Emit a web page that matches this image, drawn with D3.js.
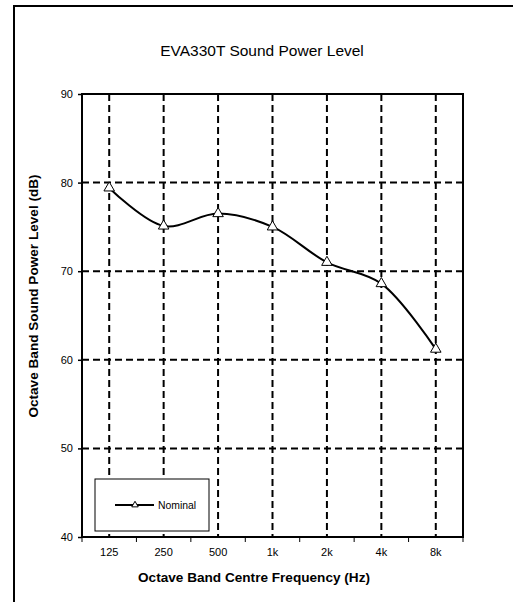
<!DOCTYPE html>
<html>
<head>
<meta charset="utf-8">
<script src="https://cdn.jsdelivr.net/npm/d3@7"></script>
<style>
  body { margin: 0; background: #fff; }
  text { font-family: "Liberation Sans", Arial, sans-serif; fill: #000; }
</style>
</head>
<body>
<div id="chart"></div>
<script>
// octave band data
const bands = ["125", "250", "500", "1k", "2k", "4k", "8k"];
const nominal = [79.4, 75.1, 76.5, 75.0, 71.0, 68.6, 61.2];
const yTicks = [40, 50, 60, 70, 80, 90];

const width = 513, height = 602;
const margin = { left: 82, right: 50, top: 94, bottom: 65 };

const svg = d3.select("#chart")
  .append("svg")
  .attr("width", width)
  .attr("height", height);

// outer chart frame (only top/left show in the crop)
svg.append("path")
  .attr("d", `M14,${height} L14,6 L${width},6`)
  .attr("fill", "none")
  .attr("stroke", "#000")
  .attr("stroke-width", 2);

const x = d3.scaleBand()
  .domain(bands)
  .range([margin.left, width - margin.right]);

const y = d3.scaleLinear()
  .domain([40, 90])
  .range([height - margin.bottom, margin.top]);

// gridlines
svg.append("g")
  .selectAll("line")
  .data(yTicks.slice(1, -1))
  .enter()
  .append("line")
  .attr("x1", margin.left)
  .attr("x2", width - margin.right)
  .attr("y1", d => y(d))
  .attr("y2", d => y(d))
  .attr("stroke", "#000")
  .attr("stroke-width", 2)
  .attr("stroke-dasharray", "7,4");

svg.append("g")
  .selectAll("line")
  .data(bands)
  .enter()
  .append("line")
  .attr("x1", d => x(d) + x.bandwidth() / 2)
  .attr("x2", d => x(d) + x.bandwidth() / 2)
  .attr("y1", y(90))
  .attr("y2", y(40))
  .attr("stroke", "#000")
  .attr("stroke-width", 2)
  .attr("stroke-dasharray", "7,4");

// plot frame
svg.append("rect")
  .attr("x", margin.left)
  .attr("y", margin.top)
  .attr("width", width - margin.right - margin.left)
  .attr("height", height - margin.bottom - margin.top)
  .attr("fill", "none")
  .attr("stroke", "#000")
  .attr("stroke-width", 2);

// y axis
const yAxis = d3.axisLeft(y).tickValues(yTicks).tickSize(4).tickPadding(5);
const gy = svg.append("g")
  .attr("transform", `translate(${margin.left}, 0)`)
  .call(yAxis);
gy.select(".domain").remove();
gy.selectAll("line").attr("stroke-width", 1.5);
gy.selectAll("text").style("font-size", "11px").attr("fill", "#222");

// x axis: ticks at band edges, labels at band centres
const edges = bands.map(d => x(d)).concat([x.range()[1]]);
svg.append("g")
  .selectAll("line")
  .data(edges)
  .enter()
  .append("line")
  .attr("x1", d => d)
  .attr("x2", d => d)
  .attr("y1", y(40))
  .attr("y2", y(40) + 5)
  .attr("stroke", "#000")
  .attr("stroke-width", 1);

svg.append("g")
  .selectAll("text")
  .data(bands)
  .enter()
  .append("text")
  .attr("x", d => x(d) + x.bandwidth() / 2)
  .attr("y", y(40) + 19)
  .attr("text-anchor", "middle")
  .style("font-size", "11px")
  .attr("fill", "#222")
  .text(d => d);

// series line (smoothed)
const pts = bands.map((b, i) => [x(b) + x.bandwidth() / 2, y(nominal[i])]);
svg.append("path")
  .datum(pts)
  .attr("d", d3.line().curve(d3.curveCatmullRom.alpha(0.5)))
  .attr("fill", "none")
  .attr("stroke", "#000")
  .attr("stroke-width", 2);

const tri = d3.symbol().type(d3.symbolTriangle).size(48);
svg.append("g")
  .selectAll("path")
  .data(pts)
  .enter()
  .append("path")
  .attr("transform", d => `translate(${d[0]},${d[1]})`)
  .attr("d", tri)
  .attr("fill", "#fff")
  .attr("stroke", "#000")
  .attr("stroke-width", 1);

// legend
const lg = svg.append("g").attr("transform", "translate(95,479)");
lg.append("rect")
  .attr("width", 114)
  .attr("height", 52)
  .attr("fill", "#fff")
  .attr("stroke", "#000")
  .attr("stroke-width", 1);
lg.append("line")
  .attr("x1", 20).attr("x2", 59)
  .attr("y1", 26).attr("y2", 26)
  .attr("stroke", "#000")
  .attr("stroke-width", 2);
lg.append("path")
  .attr("transform", "translate(40,26)")
  .attr("d", d3.symbol().type(d3.symbolTriangle).size(18))
  .attr("fill", "#fff")
  .attr("stroke", "#000")
  .attr("stroke-width", 1);
lg.append("text")
  .attr("x", 63)
  .attr("y", 29.5)
  .style("font-size", "10.4px")
  .attr("fill", "#222")
  .text("Nominal");

// titles
svg.append("text")
  .attr("x", 262)
  .attr("y", 56)
  .attr("text-anchor", "middle")
  .style("font-size", "15.5px")
  .text("EVA330T Sound Power Level");

svg.append("text")
  .attr("x", 254)
  .attr("y", 582)
  .attr("text-anchor", "middle")
  .style("font-size", "13.6px")
  .style("font-weight", "bold")
  .text("Octave Band Centre Frequency (Hz)");

svg.append("text")
  .attr("transform", "translate(38,296) rotate(-90)")
  .attr("text-anchor", "middle")
  .style("font-size", "13.6px")
  .style("font-weight", "bold")
  .text("Octave Band Sound Power Level (dB)");
</script>
</body>
</html>
